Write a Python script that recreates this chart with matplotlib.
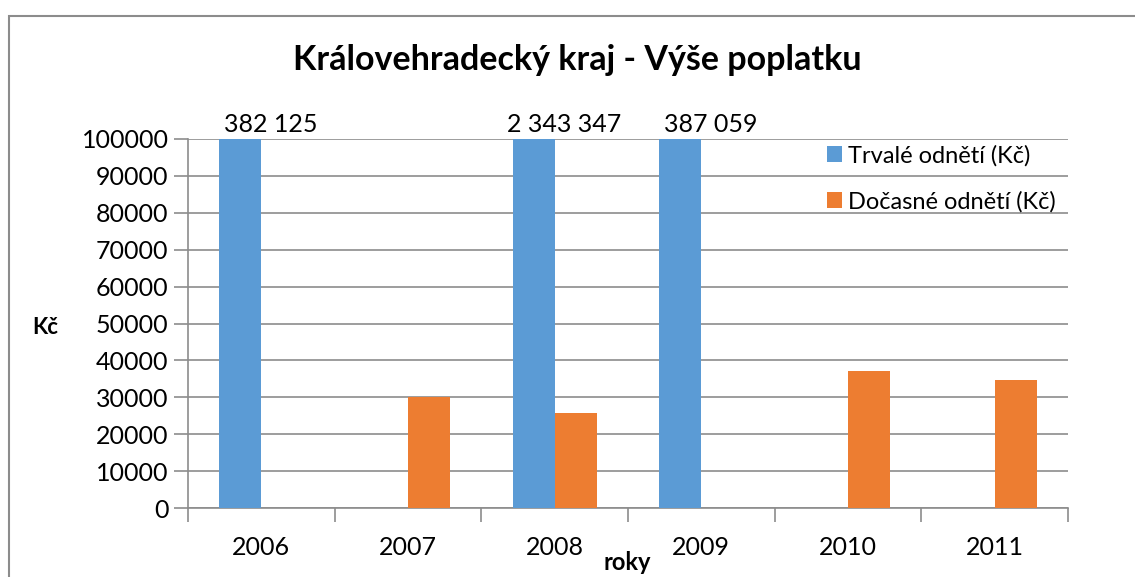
import matplotlib
matplotlib.use("Agg")
import matplotlib.pyplot as plt
import numpy as np
from matplotlib.patches import Rectangle

years = ["2006", "2007", "2008", "2009", "2010", "2011"]
trvale = [382125, 0, 2343347, 387059, 0, 0]
docasne = [0, 30000, 25700, 0, 37200, 34700]
trvale_labels = ["382 125", "", "2 343 347", "387 059", "", ""]
yticks = [0, 10000, 20000, 30000, 40000, 50000, 60000, 70000, 80000, 90000, 100000]

plt.rcParams['font.family'] = ['Lato', 'DejaVu Sans']
blue = "#5B9BD5"
orange = "#ED7D31"
grid = "#8C8C8C"

fig = plt.figure(figsize=(11.35, 5.77), dpi=100)
W, H = 1135, 577
ax = fig.add_axes([188 / W, 1 - 508 / H, (1068 - 188) / W, (508 - 139) / H])

x = np.arange(len(years))
bw = 1 / 3.5
b1 = ax.bar(x - bw / 2, trvale, bw, color=blue, label="Trvalé odnětí (Kč)", zorder=3)
b2 = ax.bar(x + bw / 2, docasne, bw, color=orange, label="Dočasné odnětí (Kč)", zorder=3)

ax.set_xlim(-0.5, len(years) - 0.5)
ax.set_ylim(0, 100000)
ax.set_yticks(yticks)
ax.set_yticklabels([str(v) for v in yticks], fontsize=18)
ax.set_xticks(x)
ax.set_xticklabels(years, fontsize=18)
ax.tick_params(axis='x', length=0, pad=20)
ax.set_xticks(np.arange(-0.5, len(years)), minor=True)
ax.tick_params(axis='x', which='minor', length=10, color=grid, width=1.2)
ax.tick_params(axis='y', length=10, color=grid, width=1.2, pad=4)
ax.yaxis.grid(True, color=grid, linewidth=1.2, zorder=0)
for s in ["top", "right"]:
    ax.spines[s].set_visible(False)
for s in ["left", "bottom"]:
    ax.spines[s].set_color(grid)
    ax.spines[s].set_linewidth(1.2)

for xi, lab in zip(x, trvale_labels):
    if lab:
        ax.annotate(lab, xy=(xi - bw / 2, 100000), xytext=(22, 2), textcoords='offset points',
                    ha='center', va='bottom', fontsize=18, annotation_clip=False)

fig.text(577 / W, 1 - 60 / H, "Královehradecký kraj - Výše poplatku", ha='center', va='center',
         fontsize=24.5, fontweight='bold')
fig.text(45 / W, 1 - 327 / H, "Kč", ha='center', va='center', fontsize=16, fontweight='bold')
fig.text(627 / W, 1 - 563 / H, "roky", ha='center', va='center', fontsize=17, fontweight='bold')

leg = fig.legend(handles=[b1, b2], loc='upper left', bbox_to_anchor=(815 / W, 1 - 133 / H),
                 frameon=False, fontsize=17, handlelength=0.65, handleheight=0.65,
                 handletextpad=0.25, labelspacing=1.05, borderpad=0)

fig.patches.append(Rectangle((9 / W, -0.1), 1.2, (1 - 16 / H) + 0.1, transform=fig.transFigure,
                             fill=False, edgecolor="#8C8C8C", linewidth=1.5))
fig.savefig("out.png", dpi=100)
